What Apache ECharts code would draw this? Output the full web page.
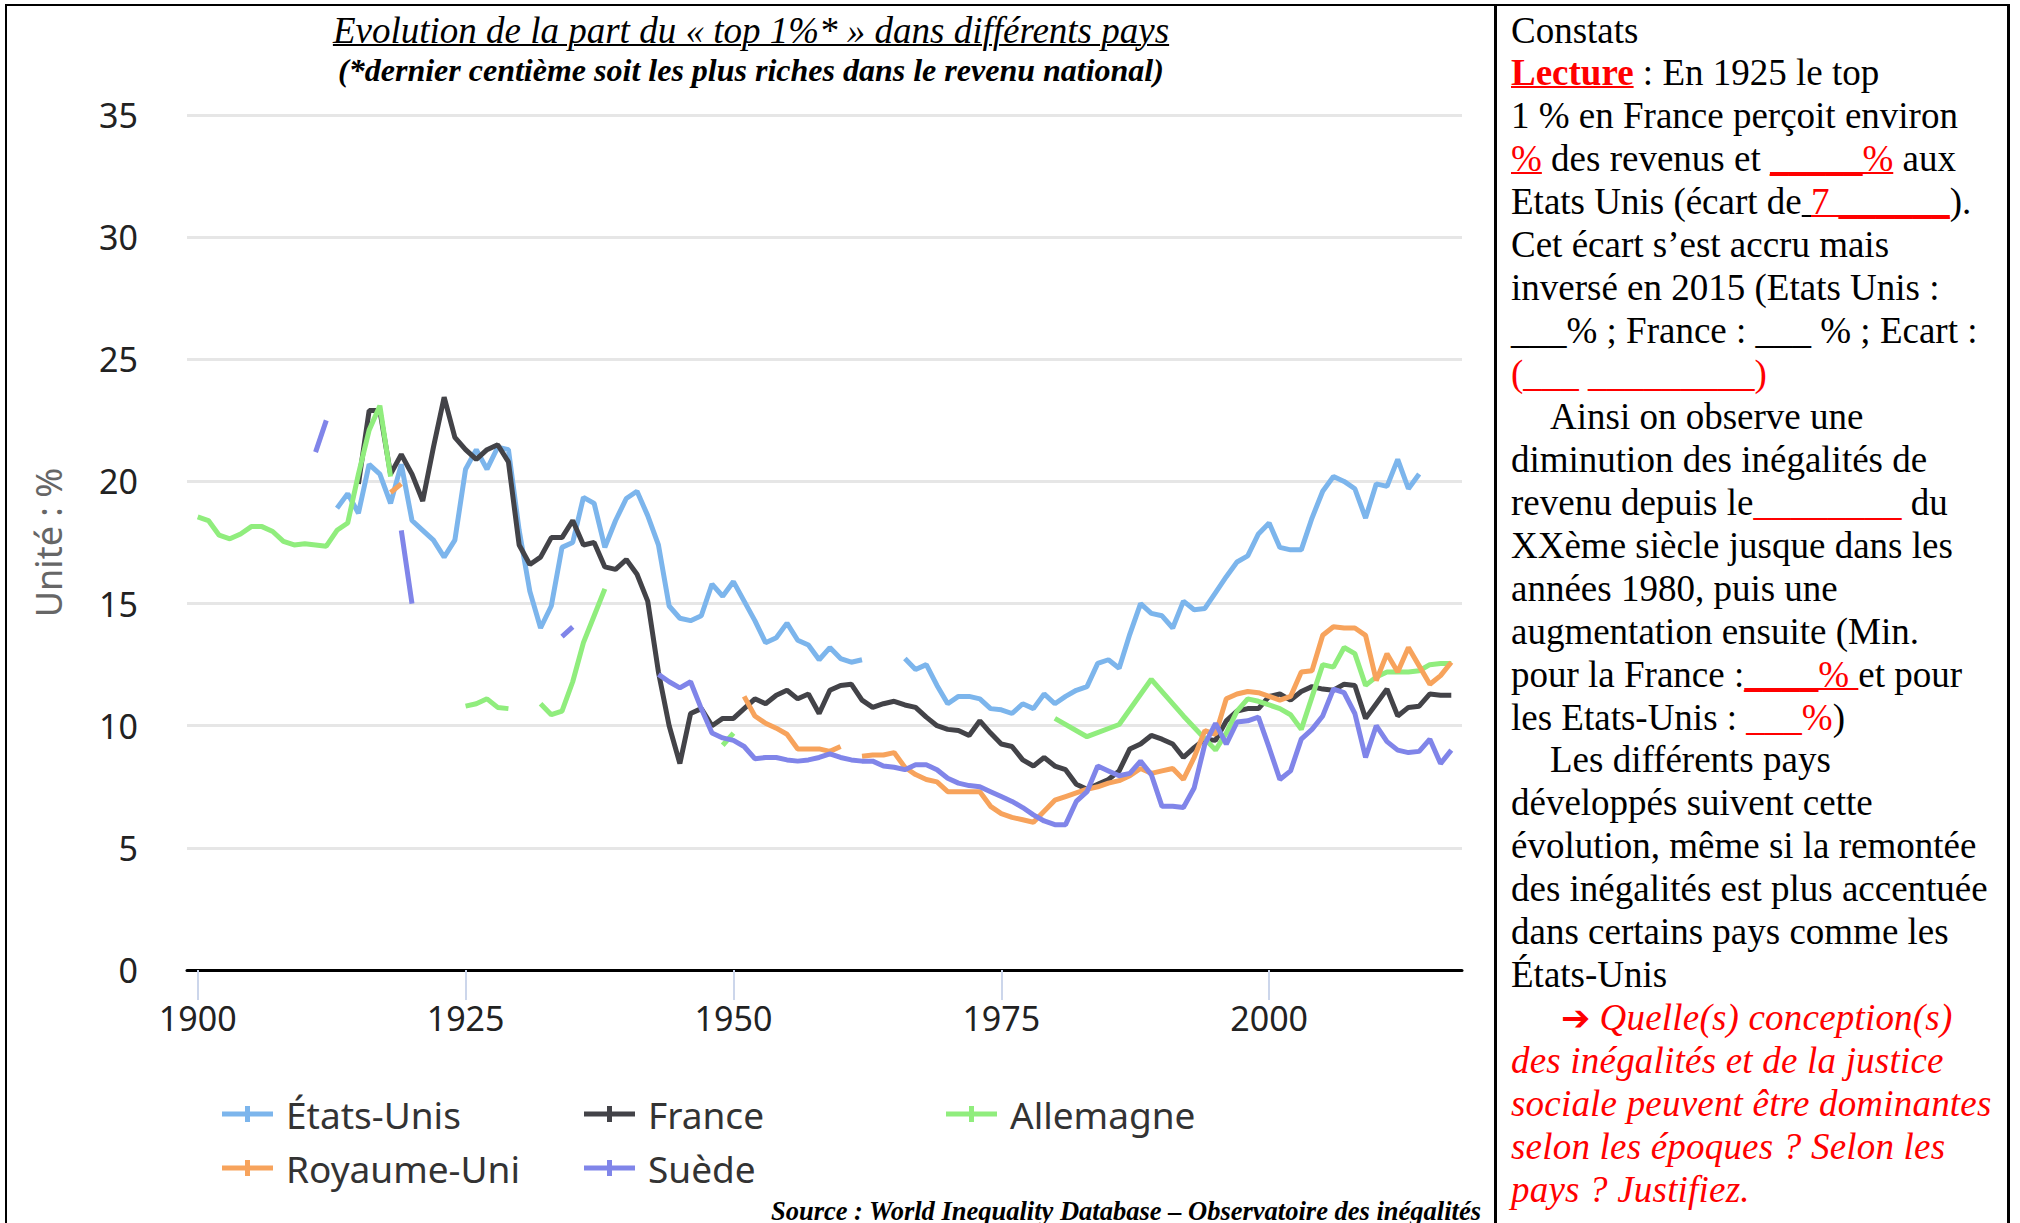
<!DOCTYPE html>
<html>
<head>
<meta charset="utf-8">
<script src="https://cdn.jsdelivr.net/npm/echarts@6/dist/echarts.min.js"></script>
<style>
  html, body { margin: 0; padding: 0; background: #fff; }
  body { width: 2020px; height: 1223px; position: relative; overflow: hidden; }
  #chart { position: absolute; left: 0; top: 0; width: 1496px; height: 1223px; }
  .rule { position: absolute; background: #000; }
  .serif { font-family: "Liberation Serif", "Times New Roman", serif; color: #000; white-space: nowrap; }
  #title { position: absolute; left: 6px; width: 1490px; top: 9px; text-align: center;
           font-size: 37px; line-height: 44px; font-style: italic; text-decoration: underline; text-decoration-thickness: 2px; }
  #subtitle { position: absolute; left: 6px; width: 1490px; top: 52px; text-align: center;
              font-size: 32px; line-height: 36px; font-style: italic; font-weight: bold; }
  #source { position: absolute; left: 0; width: 1481px; top: 1196px; text-align: right;
            font-size: 26.5px; line-height: 30px; font-style: italic; font-weight: bold; }
  #panel { position: absolute; left: 1511px; top: 9.5px; font-size: 37px; }
  #panel div { height: 42.94px; line-height: 42.94px; }
  .red { color: #ff0000; }
  .u { text-decoration: underline; text-decoration-thickness: 2px; }
  .b { font-weight: bold; }
  .it { font-style: italic; letter-spacing: 0.2px; }
  .ind { padding-left: 39px; }
  .arrow { font-family: "DejaVu Sans", sans-serif; font-size: 35px; font-weight: bold; }
</style>
</head>
<body>
<div id="chart"></div>

<div class="rule" style="left:5px; top:4px; width:2005px; height:2px;"></div>
<div class="rule" style="left:5px; top:4px; width:2px; height:1219px;"></div>
<div class="rule" style="left:1494px; top:4px; width:3px; height:1219px;"></div>
<div class="rule" style="left:2007px; top:4px; width:3px; height:1219px;"></div>

<div id="title" class="serif">Evolution de la part du « top 1%* » dans différents pays</div>
<div id="subtitle" class="serif">(*dernier centième soit les plus riches dans le revenu national)</div>
<div id="source" class="serif">Source : World Inequality Database – Observatoire des inégalités</div>

<div id="panel" class="serif">
  <div>Constats</div>
  <div><span class="red b u">Lecture</span> : En 1925 le top</div>
  <div>1 % en France perçoit environ</div>
  <div><span class="red u">%</span> des revenus et <span class="red u">_____%</span> aux</div>
  <div>Etats Unis (écart de<span class="u">&nbsp;</span><span class="red u">7 ______</span>).</div>
  <div>Cet écart s’est accru mais</div>
  <div>inversé en 2015 (Etats Unis :</div>
  <div>___% ; France : ___ % ; Ecart :</div>
  <div class="red">(___ _________)</div>
  <div class="ind">Ainsi on observe une</div>
  <div>diminution des inégalités de</div>
  <div>revenu depuis le<span class="red">________</span> du</div>
  <div>XXème siècle jusque dans les</div>
  <div>années 1980, puis une</div>
  <div>augmentation ensuite (Min.</div>
  <div>pour la France :<span class="red u">____% </span>et pour</div>
  <div>les Etats-Unis : <span class="red">___%</span>)</div>
  <div class="ind">Les différents pays</div>
  <div>développés suivent cette</div>
  <div>évolution, même si la remontée</div>
  <div>des inégalités est plus accentuée</div>
  <div>dans certains pays comme les</div>
  <div>États-Unis</div>
  <div class="red" style="padding-left:50px;"><span class="arrow">➔</span> <span class="it">Quelle(s) conception(s)</span></div>
  <div class="red it">des inégalités et de la justice</div>
  <div class="red it">sociale peuvent être dominantes</div>
  <div class="red it">selon les époques ? Selon les</div>
  <div class="red it">pays ? Justifiez.</div>
</div>

<script>
// part du top 1 % (en %), [année, valeur] ; null = pas de données (coupure)
const etatsUnis = [
  [1913, 18.9], [1914, 19.5], [1915, 18.7], [1916, 20.7], [1917, 20.3], [1918, 19.1], [1919, 20.7],
  [1920, 18.4], [1921, 18.0], [1922, 17.6], [1923, 16.9], [1924, 17.6], [1925, 20.5], [1926, 21.3],
  [1927, 20.5], [1928, 21.4], [1929, 21.3], [1930, 18.0], [1931, 15.5], [1932, 14.0], [1933, 14.9],
  [1934, 17.3], [1935, 17.5], [1936, 19.35], [1937, 19.1], [1938, 17.3], [1939, 18.4], [1940, 19.3],
  [1941, 19.6], [1942, 18.6], [1943, 17.4], [1944, 14.9], [1945, 14.4], [1946, 14.3], [1947, 14.5],
  [1948, 15.8], [1949, 15.3], [1950, 15.9], [1951, 15.1], [1952, 14.3], [1953, 13.4], [1954, 13.6],
  [1955, 14.2], [1956, 13.5], [1957, 13.3], [1958, 12.7], [1959, 13.2], [1960, 12.75], [1961, 12.6],
  [1962, 12.7], [1963, null],
  [1966, 12.75], [1967, 12.3], [1968, 12.5], [1969, 11.65], [1970, 10.9], [1971, 11.2], [1972, 11.2],
  [1973, 11.1], [1974, 10.7], [1975, 10.65], [1976, 10.5], [1977, 10.9], [1978, 10.7], [1979, 11.3],
  [1980, 10.9], [1981, 11.2], [1982, 11.45], [1983, 11.6], [1984, 12.55], [1985, 12.7], [1986, 12.35],
  [1987, 13.75], [1988, 15.0], [1989, 14.6], [1990, 14.5], [1991, 14.0], [1992, 15.1], [1993, 14.75],
  [1994, 14.8], [1995, 15.45], [1996, 16.1], [1997, 16.7], [1998, 16.95], [1999, 17.85], [2000, 18.3],
  [2001, 17.3], [2002, 17.2], [2003, 17.2], [2004, 18.5], [2005, 19.6], [2006, 20.2], [2007, 20.0],
  [2008, 19.7], [2009, 18.5], [2010, 19.9], [2011, 19.8], [2012, 20.9], [2013, 19.7], [2014, 20.3]
];

const france = [
  [1915, 19.9], [1916, 22.9], [1917, 22.9], [1918, 20.3], [1919, 21.1], [1920, 20.3], [1921, 19.2],
  [1922, 21.4], [1923, 23.45], [1924, 21.8], [1925, 21.3], [1926, 20.9], [1927, 21.3], [1928, 21.5],
  [1929, 20.8], [1930, 17.4], [1931, 16.6], [1932, 16.9], [1933, 17.7], [1934, 17.7], [1935, 18.4],
  [1936, 17.4], [1937, 17.5], [1938, 16.5], [1939, 16.4], [1940, 16.8], [1941, 16.2], [1942, 15.1],
  [1943, 12.2], [1944, 10.0], [1945, 8.45], [1946, 10.5], [1947, 10.7], [1948, 10.0], [1949, 10.3],
  [1950, 10.3], [1951, 10.7], [1952, 11.1], [1953, 10.9], [1954, 11.25], [1955, 11.45], [1956, 11.1],
  [1957, 11.3], [1958, 10.5], [1959, 11.45], [1960, 11.65], [1961, 11.7], [1962, 11.05], [1963, 10.75],
  [1964, 10.9], [1965, 11.0], [1966, 10.85], [1967, 10.75], [1968, 10.35], [1969, 10.0], [1970, 9.85],
  [1971, 9.8], [1972, 9.6], [1973, 10.2], [1974, 9.7], [1975, 9.25], [1976, 9.15], [1977, 8.6],
  [1978, 8.35], [1979, 8.7], [1980, 8.35], [1981, 8.2], [1982, 7.6], [1983, 7.4], [1984, 7.6],
  [1985, 7.8], [1986, 8.15], [1987, 9.05], [1988, 9.25], [1989, 9.6], [1990, 9.45], [1991, 9.25],
  [1992, 8.7], [1993, 9.1], [1994, 9.45], [1995, 9.4], [1996, 10.2], [1997, 10.6], [1998, 10.7],
  [1999, 10.7], [2000, 11.2], [2001, 11.3], [2002, 11.05], [2003, 11.4], [2004, 11.6], [2005, 11.5],
  [2006, 11.45], [2007, 11.7], [2008, 11.65], [2009, 10.3], [2010, 10.9], [2011, 11.5], [2012, 10.4],
  [2013, 10.75], [2014, 10.8], [2015, 11.3], [2016, 11.25], [2017, 11.25]
];

const allemagne = [
  [1900, 18.55], [1901, 18.4], [1902, 17.8], [1903, 17.65], [1904, 17.85], [1905, 18.15], [1906, 18.15],
  [1907, 17.95], [1908, 17.55], [1909, 17.4], [1910, 17.45], [1911, 17.4], [1912, 17.35], [1913, 18.0],
  [1914, 18.3], [1915, 20.3], [1916, 22.1], [1917, 23.1], [1918, 20.2], [1919, null],
  [1925, 10.8], [1926, 10.9], [1927, 11.1], [1928, 10.75], [1929, 10.7], [1930, null],
  [1932, 10.9], [1933, 10.45], [1934, 10.6], [1935, 11.8], [1936, 13.4], [1937, 14.5], [1938, 15.6], [1939, null],
  [1949, 9.2], [1950, 9.7], [1951, null],
  [1980, 10.3], [1983, 9.55], [1986, 10.05], [1989, 11.9], [1992, 10.4], [1995, 9.0], [1996, 9.7],
  [1997, 10.6], [1998, 11.1], [1999, 11.0], [2000, 10.85], [2001, 10.7], [2002, 10.45], [2003, 9.85],
  [2005, 12.5], [2006, 12.4], [2007, 13.2], [2008, 12.95], [2009, 11.65], [2010, 12.0], [2011, 12.2],
  [2012, 12.2], [2013, 12.2], [2014, 12.25], [2015, 12.5], [2016, 12.55], [2017, 12.55]
];

const royaumeUni = [
  [1918, 19.55], [1919, 19.9], [1920, null],
  [1951, 11.2], [1952, 10.4], [1953, 10.1], [1954, 9.9], [1955, 9.65], [1956, 9.05], [1957, 9.05],
  [1958, 9.05], [1959, 8.95], [1960, 9.15], [1961, null],
  [1962, 8.75], [1963, 8.8], [1964, 8.8], [1965, 8.9], [1966, 8.3], [1967, 8.0], [1968, 7.8],
  [1969, 7.7], [1970, 7.3], [1971, 7.3], [1972, 7.3], [1973, 7.3], [1974, 6.7], [1975, 6.4],
  [1976, 6.25], [1977, 6.15], [1978, 6.05], [1979, 6.5], [1980, 6.95], [1981, 7.1], [1982, 7.25],
  [1983, 7.4], [1984, 7.5], [1985, 7.65], [1986, 7.75], [1987, 7.95], [1988, 8.25], [1989, 8.05],
  [1990, 8.15], [1991, 8.25], [1992, 7.8], [1993, 8.7], [1994, 9.8], [1995, 9.65], [1996, 11.1],
  [1997, 11.3], [1998, 11.4], [1999, 11.35], [2000, 11.2], [2001, 11.05], [2002, 11.2], [2003, 12.2],
  [2004, 12.25], [2005, 13.7], [2006, 14.05], [2007, 14.0], [2008, 14.0], [2009, 13.7], [2010, 11.85],
  [2011, 12.95], [2012, 12.2], [2013, 13.2], [2014, 12.45], [2015, 11.7], [2016, 12.05], [2017, 12.6]
];

const suede = [
  [1911, 21.2], [1912, 22.5], [1913, null],
  [1919, 18.0], [1920, 15.0], [1921, null],
  [1934, 13.65], [1935, 14.05], [1936, null],
  [1943, 12.1], [1944, 11.8], [1945, 11.55], [1946, 11.8], [1947, 10.7], [1948, 9.7], [1949, 9.5],
  [1950, 9.4], [1951, 9.15], [1952, 8.65], [1953, 8.7], [1954, 8.7], [1955, 8.6], [1956, 8.55],
  [1957, 8.6], [1958, 8.7], [1959, 8.85], [1960, 8.7], [1961, 8.6], [1962, 8.55], [1963, 8.55],
  [1964, 8.35], [1965, 8.3], [1966, 8.2], [1967, 8.4], [1968, 8.4], [1969, 8.2], [1970, 7.85],
  [1971, 7.65], [1972, 7.55], [1973, 7.5], [1974, 7.3], [1975, 7.1], [1976, 6.9], [1977, 6.65],
  [1978, 6.35], [1979, 6.1], [1980, 5.95], [1981, 5.95], [1982, 6.9], [1983, 7.3], [1984, 8.35],
  [1985, 8.15], [1986, 7.95], [1987, 8.05], [1988, 8.55], [1989, 8.0], [1990, 6.7], [1991, 6.7],
  [1992, 6.65], [1993, 7.45], [1994, 9.25], [1995, 10.1], [1996, 9.25], [1997, 10.15], [1998, 10.2],
  [1999, 10.35], [2000, 9.1], [2001, 7.8], [2002, 8.15], [2003, 9.45], [2004, 9.85], [2005, 10.4],
  [2006, 11.5], [2007, 11.35], [2008, 10.5], [2009, 8.7], [2010, 10.0], [2011, 9.35], [2012, 9.0],
  [2013, 8.9], [2014, 8.95], [2015, 9.45], [2016, 8.45], [2017, 9.0]
];

const pays = ['États-Unis', 'France', 'Allemagne', 'Royaume-Uni', 'Suède'];
const couleurs = ['#7cb5ec', '#434348', '#90ed7d', '#f7a35c', '#8085e9'];
const tickYears = [1900, 1925, 1950, 1975, 2000];

const chart = echarts.init(document.getElementById('chart'), null, { renderer: 'svg' });

const legendIcon = 'path://M0,7.5L23,7.5L23,2L28,2L28,7.5L51,7.5L51,12.5L28,12.5L28,18L23,18L23,12.5L0,12.5Z';
const legendBase = {
  orient: 'horizontal',
  left: 222,
  padding: 0,
  icon: legendIcon,
  itemWidth: 51,
  itemHeight: 20,
  itemGap: 18,
  itemStyle: { borderWidth: 0 },
  textStyle: { fontFamily: 'Noto Sans', fontSize: 37, color: '#333', width: 280, lineHeight: 40, padding: [0, 0, 0, 8] }
};

chart.setOption({
  animation: false,
  color: couleurs,
  grid: { left: 187, right: 34, top: 115, bottom: 253, containLabel: false },
  xAxis: {
    type: 'value',
    min: 1899,
    max: 2018,
    axisLine: { lineStyle: { color: '#000', width: 3 } },
    axisTick: { customValues: tickYears, length: 30, lineStyle: { color: '#ccd6eb', width: 2 } },
    axisLabel: {
      customValues: tickYears,
      formatter: v => String(v),
      fontFamily: 'Noto Sans', fontSize: 34, color: '#222', margin: 31
    },
    splitLine: { show: false }
  },
  yAxis: {
    type: 'value',
    min: 0,
    max: 35,
    interval: 5,
    name: 'Unité : %',
    nameLocation: 'middle',
    nameRotate: 90,
    nameGap: 121,
    nameTextStyle: { fontFamily: 'Noto Sans', fontSize: 36, color: '#666' },
    axisLine: { show: false },
    axisTick: { show: false },
    axisLabel: { fontFamily: 'Noto Sans', fontSize: 34, color: '#222', margin: 49 },
    splitLine: { lineStyle: { color: '#e6e6e6', width: 3 } }
  },
  legend: [
    Object.assign({}, legendBase, { top: 1094, data: pays.slice(0, 3) }),
    Object.assign({}, legendBase, { top: 1148, data: pays.slice(3) })
  ],
  series: [etatsUnis, france, allemagne, royaumeUni, suede].map((d, i) => ({
    name: pays[i],
    type: 'line',
    data: d,
    showSymbol: false,
    symbol: 'none',
    connectNulls: false,
    lineStyle: { width: 5, color: couleurs[i] },
    emphasis: { disabled: true }
  }))
});
</script>
</body>
</html>
